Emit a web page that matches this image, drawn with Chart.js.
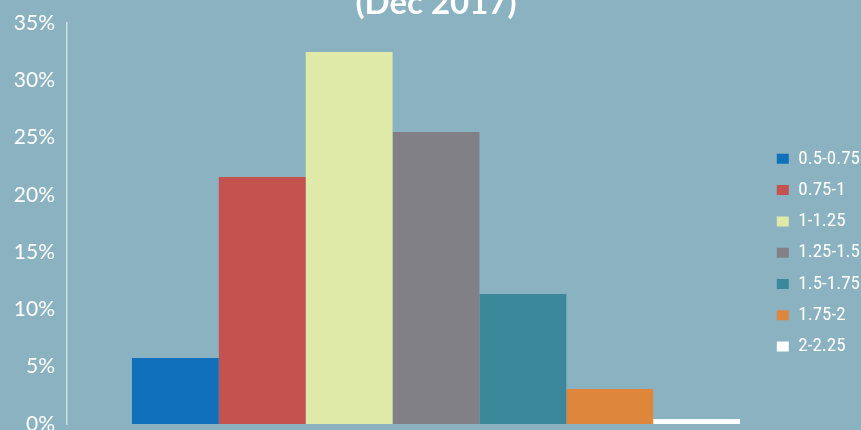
<!DOCTYPE html>
<html>
<head>
<meta charset="utf-8">
<style>
	html, body {
		margin: 0;
		padding: 0;
		background: #8bb2c1;
	}
	.wrapper {
		width: 861px;
		height: 430px;
		position: relative;
	}
</style>
</head>
<body>
<div class="wrapper">
	<canvas id="bandChart"></canvas>
</div>

<script src="https://cdn.jsdelivr.net/npm/chart.js"></script>

<script>
	var titleText = '(Dec 2017)';

	var bands = [
		'0.5-0.75',
		'0.75-1',
		'1-1.25',
		'1.25-1.5',
		'1.5-1.75',
		'1.75-2',
		'2-2.25'
	];

	// share of total, in percent
	var shares = [5.76, 21.56, 32.47, 25.49, 11.35, 3.05, 0.44];

	var bandColors = ['#1070bb', '#c4524f', '#dfe9a8', '#808085', '#3a8899', '#de873c', '#ffffff'];

	var yTicks = [0, 5, 10, 15, 20, 25, 30, 35];

	var datasets = [];
	bands.forEach(function (b, i) {
		datasets.push({
			label: b,
			data: [shares[i]],
			backgroundColor: bandColors[i],
			borderWidth: 0,
			barPercentage: 1,
			categoryPercentage: 0.824
		});
	});

	// legend goes to the right edge, title centred over the bars
	var placeBoxes = {
		id: 'placeBoxes',
		afterLayout: function (chart) {
			var lg = chart.legend;
			lg.left = 764.5;
			lg.right = 861;
			lg.top = 137;
			lg.bottom = 430;
			lg.width = lg.right - lg.left;
			lg.height = lg.bottom - lg.top;

			var tb = chart.titleBlock;
			tb.left = 0;
			tb.right = 872;
			tb.width = 872;
		}
	};

	new Chart(document.getElementById('bandChart'), {
		type: 'bar',
		data: {
			labels: [''],
			datasets: datasets
		},
		plugins: [placeBoxes],
		options: {
			responsive: true,
			maintainAspectRatio: false,
			animation: false,
			layout: {
				padding: { left: 0, right: 56, top: 0, bottom: 6 }
			},
			plugins: {
				title: {
					display: true,
					text: titleText,
					color: '#ffffff',
					font: { family: 'Lato, "Liberation Sans", sans-serif', size: 33, weight: 'bold', lineHeight: 1.2 },
					padding: { top: -16.3, bottom: -0.3 }
				},
				legend: {
					position: 'chartArea',
					align: 'start',
					labels: {
						color: '#ffffff',
						boxWidth: 12,
						boxHeight: 10,
						padding: 12.3,
						font: { family: '"Roboto Condensed", Roboto, sans-serif', size: 19 }
					}
				},
				tooltip: { enabled: false }
			},
			scales: {
				x: {
					display: false
				},
				y: {
					min: 0,
					max: 35,
					afterFit: function (scale) {
						scale.width = 67;
						scale.paddingTop = 0;
						scale.paddingBottom = 0;
					},
					afterBuildTicks: function (scale) {
						scale.ticks = yTicks.map(function (v) { return { value: v }; });
					},
					ticks: {
						color: '#ffffff',
						padding: 12,
						font: { family: 'Lato, "Liberation Sans", sans-serif', size: 21 },
						callback: function (v) { return v + '%'; }
					},
					grid: { display: false, drawTicks: false },
					border: { display: true, color: '#d3dde1', width: 1.5 }
				}
			}
		}
	});
</script>
</body>
</html>
